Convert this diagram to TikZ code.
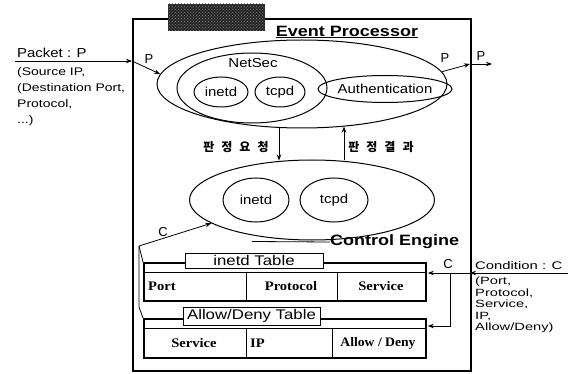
\documentclass[tikz,border=0pt]{standalone}
\usepackage{graphicx}
\usepackage{fontspec}
\setmainfont{Liberation Sans}
\newfontfamily\serifb{Liberation Serif}
\newfontfamily\kr{Noto Sans CJK KR}
\usetikzlibrary{shapes.geometric,arrows.meta,calc,patterns}
\newcommand{\wx}[2]{\scalebox{#1}[1]{#2}}
\begin{document}
\begin{tikzpicture}[x=1pt,y=-1pt,
  ell/.style={draw, ellipse, line width=1pt, inner sep=0pt, font=\fontsize{13}{15}\selectfont},
  arr/.style={-{Stealth[length=6pt,width=4.5pt]}, line width=0.8pt},
  txt/.style={inner sep=0pt, font=\fontsize{13}{15}\selectfont},
  cell/.style={inner sep=0pt, font=\serifb\bfseries\fontsize{13}{15}\selectfont},
  tbl/.style={draw, line width=1.8pt, inner sep=0pt, anchor=north west},
  ttl/.style={draw, fill=white, line width=0.8pt, inner sep=0pt, font=\fontsize{14}{16}\selectfont},
  kor/.style={inner sep=0pt, font=\kr\bfseries\fontsize{12}{14}\selectfont},
  thinln/.style={line width=0.8pt}
]
\useasboundingbox (0,0) rectangle (570,374);
% frame
\node[draw, line width=2pt, minimum width=338pt, minimum height=352pt, anchor=north west, inner sep=0pt] (frame) at (132,18) {};
\fill[black!85] (168,4) rectangle (265,31);
\fill[pattern=crosshatch dots, pattern color=black!50] (168,4) rectangle (265,31);
\node[txt, font=\bfseries\fontsize{15}{17}\selectfont] (eptitle) at (347,32) {\wx{1.2}{\underline{Event Processor}}};
% event processor
\node[ell, minimum width=290pt, minimum height=88pt] (ep) at (302,84) {};
\node[ell, minimum width=150pt, minimum height=70pt] (netsec) at (252,88) {};
\node[txt] (netseclbl) at (253,63) {\wx{1.15}{NetSec}};
\node[ell, minimum width=54pt, minimum height=30pt] (inetdA) at (221,92) {\wx{1.15}{inetd}};
\node[ell, minimum width=50pt, minimum height=30pt] (tcpdA) at (280,92) {\wx{1.15}{tcpd}};
\node[ell, minimum width=104pt, minimum height=27pt] (auth) at (385,89) {\wx{1.15}{Authentication}};
% packet in/out
\node[txt, anchor=west] (pktlbl) at (17,53) {\wx{1.15}{Packet : P}};
\node[txt, anchor=north west, align=left, font=\fontsize{11}{16}\selectfont] (pktdesc) at (17,67) {\wx{1.27}{(Source IP,}\\\wx{1.27}{(Destination Port,}\\\wx{1.27}{Protocol,}\\\wx{1.27}{...)}};
\coordinate (pL) at (15,61);
\coordinate (pIn) at (132,61);
\coordinate (pOut) at (470,64);
\coordinate (pR) at (492,64);
\draw[arr] (pL) -- (pIn);
\draw[arr] (pIn) -- (ep.176);
\draw[arr] (ep.5) -- (pOut);
\draw[arr] (pOut) -- (pR);
\node[txt] (p1) at (149,59) {P};
\node[txt] (p2) at (445,58) {P};
\node[txt] (p3) at (481,56) {P};
% control engine
\node[ell, minimum width=245pt, minimum height=80pt] (ctrl) at (312,200) {};
\node[ell, minimum width=66pt, minimum height=44pt] (inetdB) at (256,200) {\wx{1.15}{inetd}};
\node[ell, minimum width=68pt, minimum height=44pt] (tcpdB) at (334,200) {\wx{1.15}{tcpd}};
\draw[arr] ($(ep.south)+(-23,0)$) -- ($(ctrl.north)+(-33,1)$);
\draw[arr] ($(ctrl.north)+(32,1)$) -- ($(ep.south)+(42,-2)$);
\node[kor] (req) at (236,147) {판\hspace{7pt}정\hspace{7pt}요\hspace{7pt}청};
\node[kor] (res) at (381,147) {판\hspace{7pt}정\hspace{7pt}결\hspace{7pt}과};
\node[txt, anchor=west, font=\bfseries\fontsize{15}{17}\selectfont] (celbl) at (330,242) {\wx{1.2}{Control Engine}};
\draw[thinln] ($(ctrl.south)+(-60,1)$) -- (celbl.west);
% inetd table
\node[tbl, minimum width=282pt, minimum height=38pt] (t1) at (143,262) {};
\draw[thinln] ($(t1.north west)+(0,10)$) -- ($(t1.north east)+(0,10)$);
\draw[thinln] ($(t1.north west)+(103,10)$) -- ($(t1.south west)+(103,0)$);
\draw[thinln] ($(t1.north west)+(194,10)$) -- ($(t1.south west)+(194,0)$);
\node[ttl, minimum width=138pt, minimum height=15pt] (t1t) at (254,260.5) {\wx{1.2}{inetd Table}};
\node[cell, anchor=west] (c11) at (148,286) {\wx{1.12}{Port}};
\node[cell] (c12) at (291,286) {\wx{1.12}{Protocol}};
\node[cell] (c13) at (381,286) {\wx{1.12}{Service}};
% allow/deny table
\node[tbl, minimum width=282pt, minimum height=39pt] (t2) at (143,318) {};
\draw[thinln] ($(t2.north west)+(0,10)$) -- ($(t2.north east)+(0,10)$);
\draw[thinln] ($(t2.north west)+(103,10)$) -- ($(t2.south west)+(103,0)$);
\draw[thinln] ($(t2.north west)+(189,10)$) -- ($(t2.south west)+(189,0)$);
\node[ttl, minimum width=137pt, minimum height=18pt] (t2t) at (251.5,316) {\wx{1.2}{Allow/Deny Table}};
\node[cell] (c21) at (194,343) {\wx{1.12}{Service}};
\node[cell, anchor=west] (c22) at (250,343) {\wx{1.12}{IP}};
\node[cell] (c23) at (378,343) {\wx{1.05}{Allow / Deny}};
% left C connector
\coordinate (J) at (139,246);
\coordinate (J2) at (139,307);
\draw[arr] (J) -- (ctrl.193);
\draw[thinln] (J) -- (t1.north west);
\draw[thinln] (J) -- (J2) -- (t2.north west);
\node[txt] (clbl) at (163,232) {C};
% right condition
\coordinate (cEnd) at (568,273);
\coordinate (cIn) at (470,273);
\coordinate (cV) at (450,273);
\coordinate (cV2) at (450,326);
\draw[arr] (cEnd) -- (cIn);
\draw[arr, shorten >=1pt] (cIn) -- (t1.east |- cIn);
\draw[arr, shorten >=1pt] (cV) -- (cV2) -- (t2.east |- cV2);
\node[txt] (crlbl) at (448,264) {C};
\node[txt, anchor=west, font=\fontsize{11}{13}\selectfont] (condlbl) at (475,266) {\wx{1.35}{Condition : C}};
\node[txt, anchor=north west, align=left, font=\fontsize{10.5}{11.4}\selectfont] (conddesc) at (475,277) {\wx{1.4}{(Port,}\\\wx{1.4}{Protocol,}\\\wx{1.4}{Service,}\\\wx{1.4}{IP,}\\\wx{1.4}{Allow/Deny)}};
\end{tikzpicture}
\end{document}
